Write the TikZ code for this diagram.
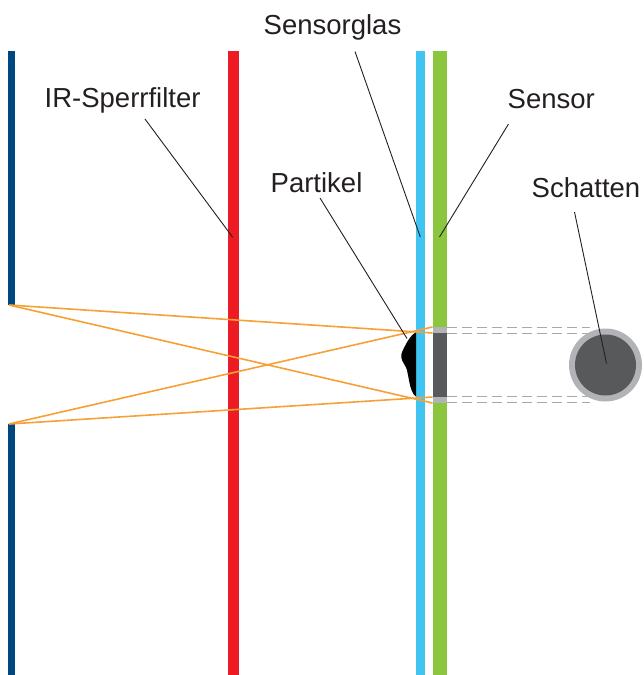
\documentclass[tikz,border=0pt]{standalone}
\usepackage{fontspec}
\setmainfont{Liberation Sans}
\begin{document}
\definecolor{filterblue}{HTML}{00477F}
\definecolor{irred}{HTML}{ED1C24}
\definecolor{glassblue}{HTML}{40C4F1}
\definecolor{sensorgreen}{HTML}{8CC63F}
\definecolor{rayorange}{HTML}{F7A035}
\definecolor{shadelight}{HTML}{B1B3B6}
\definecolor{shadedark}{HTML}{58595B}
\definecolor{inkgray}{HTML}{231F20}
\definecolor{dashgray}{HTML}{A7A9AC}
\begin{tikzpicture}[x=1pt,y=-1pt,
  label/.style={anchor=base west,inner sep=0pt,text=inkgray,font=\fontsize{27.5}{32}\selectfont},
  leader/.style={draw=inkgray,line width=0.9pt},
  ray/.style={draw=rayorange,line width=1.6pt},
  edge/.style={draw=dashgray,line width=0.9pt,dash pattern=on 10pt off 5pt}]
\useasboundingbox (0,0) rectangle (643,675);

% optical elements
\fill[filterblue] (8,51) rectangle (15,305);
\fill[filterblue] (8,424) rectangle (15,675);
\fill[irred] (228,51) rectangle (239,675);
\fill[glassblue] (416,51) rectangle (425,675);
\fill[sensorgreen] (432.5,51) rectangle (447,675);

% shadow on the sensor
\fill[shadelight] (432.5,326.7) rectangle (447,332.7);
\fill[shadedark] (432.5,332.7) rectangle (447,396.7);
\fill[shadelight] (432.5,396.7) rectangle (447,403.3);

% projected shadow
\draw[edge] (447,327.5) -- (590,327.5);
\draw[edge] (447,333.2) -- (590,333.2);
\draw[edge] (447,396.8) -- (590,396.8);
\draw[edge] (447,402.5) -- (590,402.5);
\fill[shadelight] (605.5,365) circle (36.5);
\fill[shadedark] (605.5,365) circle (30.5);
\coordinate (shadowC) at (606.5,363.5);

% particle on the sensor glass
\fill[black!95!inkgray] (416,332.3) .. controls (412,334) and (408,340) .. (405.5,345)
  .. controls (403,350) and (400.5,354) .. (401.3,357.5)
  .. controls (402,362) and (405.5,365) .. (407,370)
  .. controls (408.5,377) and (409.5,385) .. (411.5,390)
  .. controls (413,394) and (415,396) .. (416,396.7) -- cycle;

% light sources and rays
\coordinate (srcA) at (9,305);
\coordinate (srcB) at (9,424);
\coordinate (hitA) at (432.5,333);
\coordinate (hitB) at (432.5,327);
\coordinate (hitC) at (432.5,403);
\coordinate (hitD) at (432.5,397);
\draw[ray] (srcA) -- (hitA);
\draw[ray] (srcA) -- (hitC);
\draw[ray] (srcB) -- (hitB);
\draw[ray] (srcB) -- (hitD);

% labels
\node[label] (lIR) at (44.5,107) {IR-Sperrfilter};
\node[label] (lGlas) at (263.5,34) {Sensorglas};
\node[label] (lSensor) at (507.5,108) {Sensor};
\node[label] (lPart) at (270.5,192) {Partikel};
\node[label] (lShadow) at (531.5,197) {Schatten};

% leader ends
\coordinate (eIR) at (232.7,237.3);
\coordinate (eGlas) at (420.3,237);
\coordinate (eSensor) at (439.5,237);
\coordinate (ePart) at (407,338.5);

\draw[leader] (145,119) -- (eIR);
\draw[leader] (355,51.5) -- (eGlas);
\draw[leader] (508.5,124) -- (eSensor);
\draw[leader] (320,198) -- (ePart);
\draw[leader] (574.5,212) -- (shadowC);
\end{tikzpicture}
\end{document}
